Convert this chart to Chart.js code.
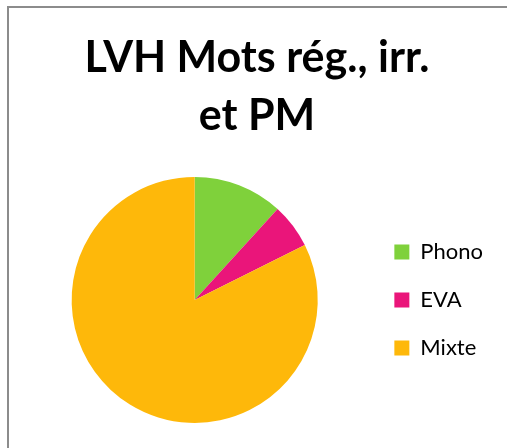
<!DOCTYPE html>
<html>
<head>
<meta charset="utf-8">
<script src="https://cdn.jsdelivr.net/npm/chart.js@4"></script>
<style>
html,body{margin:0;padding:0;background:#fff;}
#wrap{width:507px;height:448px;position:relative;}
</style>
</head>
<body>
<div id="wrap"><canvas id="c" width="507" height="448"></canvas></div>
<script>
const categories = ["Phono", "EVA", "Mixte"];
const values = [2, 1, 14];
const colors = ["#7FD13B", "#EA157A", "#FEB80A"];
const titleLines = ["LVH Mots rég., irr.", "et PM"];

const frame = {
  id: 'frame',
  beforeDraw(chart) {
    const ctx = chart.ctx;
    ctx.save();
    ctx.fillStyle = '#fff';
    ctx.fillRect(0, 0, chart.width, chart.height);
    ctx.strokeStyle = '#8c8c8c';
    ctx.lineWidth = 2;
    ctx.strokeRect(8, 7, chart.width + 20, chart.height + 20);
    ctx.restore();
  }
};

new Chart(document.getElementById('c'), {
  type: 'pie',
  data: {
    labels: categories,
    datasets: [{ data: values, backgroundColor: colors, borderWidth: 0 }]
  },
  options: {
    responsive: false,
    animation: false,
    layout: { padding: { left: 21, right: 14, top: 0, bottom: 25 } },
    plugins: {
      title: {
        display: true,
        text: titleLines,
        color: '#000',
        font: { family: 'Lato', size: 43, weight: 'bold', lineHeight: 1.342 },
        padding: { top: 29.5, bottom: 32 }
      },
      legend: {
        position: 'right',
        align: 'center',
        fullSize: false,
        labels: {
          color: '#000',
          font: { family: 'Lato', size: 22 },
          boxWidth: 15,
          boxHeight: 15,
          padding: 26
        }
      },
      tooltip: { enabled: false }
    }
  },
  plugins: [frame]
});
</script>
</body>
</html>
